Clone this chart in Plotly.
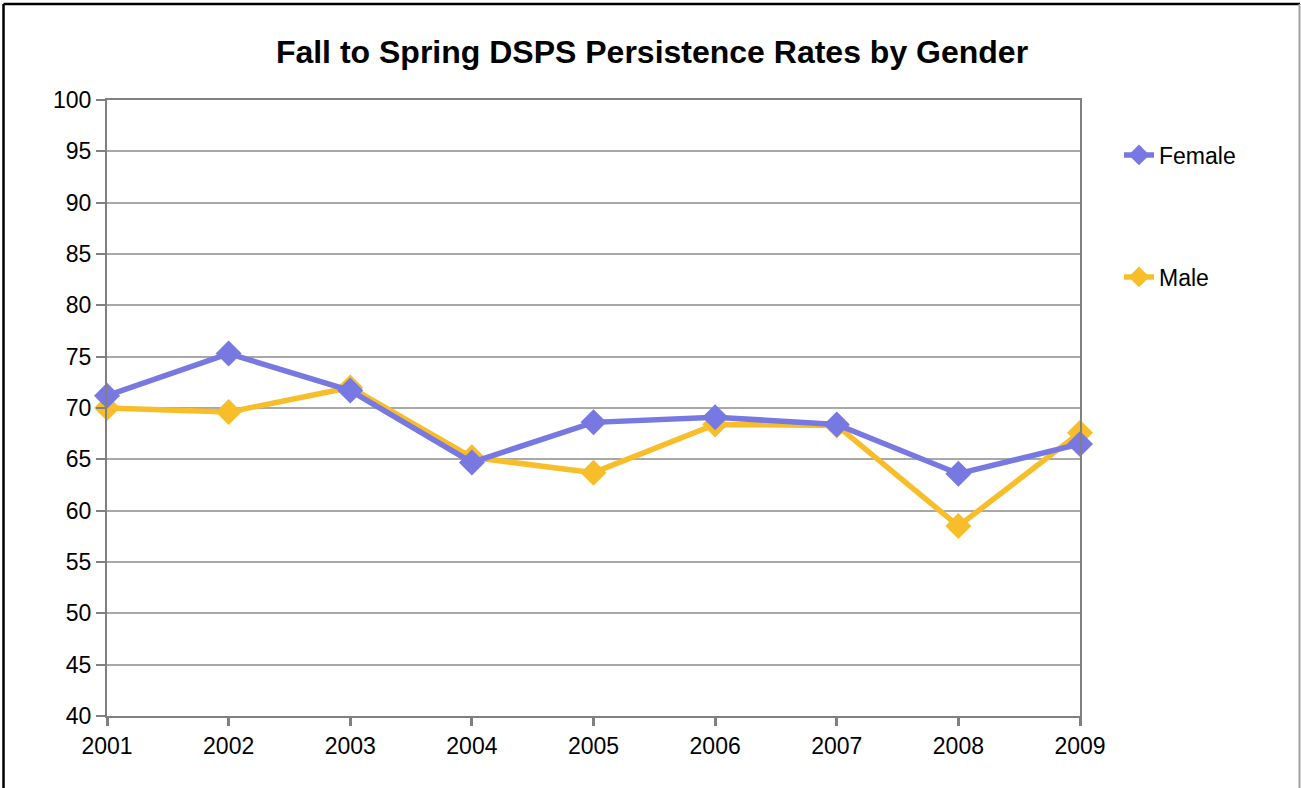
import plotly.graph_objects as go

years = [2001, 2002, 2003, 2004, 2005, 2006, 2007, 2008, 2009]
female = [71.2, 75.3, 71.7, 64.7, 68.6, 69.1, 68.4, 63.6, 66.5]
male = [70.0, 69.6, 72.0, 65.2, 63.7, 68.4, 68.3, 58.5, 67.6]

FONT = "Liberation Sans, Arial, sans-serif"
W, H = 1301, 788
L, R, T, B = 107, 221, 100, 72
pw, ph = W - L - R, H - T - B

def px(x):
    return (x - L) / pw

def py(y):
    return (H - B - y) / ph

fig = go.Figure()
fig.add_trace(go.Scatter(
    x=years, y=male, name="Male", mode="lines+markers",
    line=dict(color="#F8BE2A", width=5.5),
    marker=dict(symbol="diamond", size=20, color="#F8BE2A"),
    cliponaxis=False, legend="legend2"))
fig.add_trace(go.Scatter(
    x=years, y=female, name="Female", mode="lines+markers",
    line=dict(color="#7878E2", width=5.5),
    marker=dict(symbol="diamond", size=20, color="#7878E2"),
    cliponaxis=False, legend="legend"))

fig.update_layout(
    width=W, height=H,
    margin=dict(l=L, r=R, t=T, b=B),
    paper_bgcolor="white", plot_bgcolor="white",
    font=dict(family=FONT, size=23, color="black"),
    title=dict(text="<b>Fall to Spring DSPS Persistence Rates by Gender</b>",
               x=652 / W, xanchor="center", xref="container",
               y=1 - 52 / H, yanchor="middle", yref="container",
               font=dict(family=FONT, size=32, color="black")),
    legend=dict(x=px(1119), xanchor="left", y=py(155), yanchor="middle",
                font=dict(size=23), bgcolor="rgba(0,0,0,0)", itemwidth=30),
    legend2=dict(x=px(1119), xanchor="left", y=py(277), yanchor="middle",
                 font=dict(size=23), bgcolor="rgba(0,0,0,0)", itemwidth=30),
    xaxis=dict(range=[2001, 2009], tickvals=years, ticktext=[str(y) for y in years],
               showgrid=False, showline=True, linecolor="#808080", linewidth=2,
               mirror=True, ticks="outside", ticklen=8, tickwidth=2.5, tickcolor="#808080",
               zeroline=False, tickfont=dict(size=23)),
    yaxis=dict(range=[40, 100], dtick=5, showgrid=True, gridcolor="#a8a8a8", gridwidth=1.5,
               showline=True, linecolor="#808080", linewidth=2, mirror=True,
               ticks="outside", ticklen=9, tickwidth=1.5, tickcolor="#808080",
               zeroline=False, tickfont=dict(size=23)),
    showlegend=True,
)

# outer frame
fig.add_shape(type="line", xref="paper", yref="paper",
              x0=px(3.5), x1=px(1300), y0=py(4), y1=py(4),
              line=dict(color="black", width=2.5))
fig.add_shape(type="line", xref="paper", yref="paper",
              x0=px(3.5), x1=px(3.5), y0=py(4), y1=py(800),
              line=dict(color="black", width=2.5))
fig.add_shape(type="line", xref="paper", yref="paper",
              x0=px(1299.5), x1=px(1299.5), y0=py(4), y1=py(800),
              line=dict(color="#a0a0a0", width=2))

fig.write_html("out.html", config={"displayModeBar": False},
               post_script="document.body.style.margin='0';document.body.style.overflow='hidden';")
